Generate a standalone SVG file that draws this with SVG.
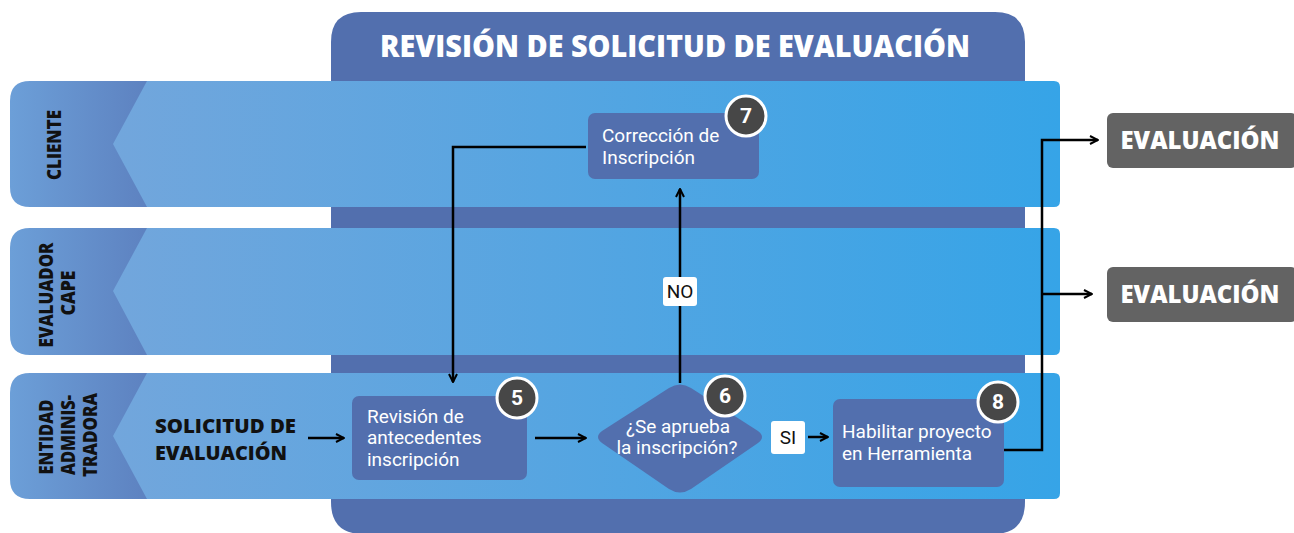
<svg xmlns="http://www.w3.org/2000/svg" width="1294" height="533" viewBox="0 0 1294 533">
<defs>
<linearGradient id="laneG" x1="0" y1="0" x2="1" y2="0">
<stop offset="0" stop-color="#72a6dc"/>
<stop offset="1" stop-color="#36a4e7"/>
</linearGradient>
<linearGradient id="headG" x1="0" y1="0" x2="1" y2="0">
<stop offset="0" stop-color="#6c9fd8"/>
<stop offset="1" stop-color="#5c7fbe"/>
</linearGradient>
<marker id="ah" viewBox="0 0 10 10" refX="9" refY="5" markerWidth="10" markerHeight="10" markerUnits="userSpaceOnUse" orient="auto">
<path d="M1,1 L9,5 L1,9" fill="none" stroke="#000" stroke-width="2"/>
</marker>
<style>
.lab{font-family:"Open Sans","DejaVu Sans",sans-serif;font-weight:800;font-size:19px;fill:#111}
.box{fill:#526fae}
.bt{font-family:"Roboto","Liberation Sans",sans-serif;font-size:19px;fill:#fff}
.badge{fill:#474747;stroke:#fff;stroke-width:3}
.bn{font-family:"Roboto","Liberation Sans",sans-serif;font-weight:bold;font-size:21px;fill:#fff;text-anchor:middle}
.cn{fill:none;stroke:#000;stroke-width:2.5}
.tag{fill:#fff}
.tt{font-family:"Roboto","Liberation Sans",sans-serif;font-size:19px;fill:#111;text-anchor:middle}
.ev{fill:#636363}
.evt{font-family:"Open Sans","DejaVu Sans",sans-serif;font-weight:800;font-size:25px;fill:#fff;text-anchor:middle}
</style>
</defs>
<rect width="1294" height="533" fill="#fff"/>
<!-- background panel -->
<g id="panel">
<path d="M331,502 L331,42 Q331,12 361,12 L995,12 Q1025,12 1025,42 L1025,502 Q1025,534 993,534 L363,534 Q331,534 331,502 Z" fill="#526fae"/>
<text x="675" y="57" text-anchor="middle" font-family="'Open Sans','DejaVu Sans',sans-serif" font-weight="800" font-size="30" fill="#fff" textLength="590" lengthAdjust="spacingAndGlyphs">REVISIÓN DE SOLICITUD DE EVALUACIÓN</text>
</g>
<!-- lanes -->
<g id="lane-cliente">
<path d="M30,81 L160,81 L160,207 L30,207 Q10,207 10,187 L10,101 Q10,81 30,81 Z" fill="url(#headG)"/>
<path d="M147,81 L1054,81 Q1060,81 1060,87 L1060,201 Q1060,207 1054,207 L147,207 L113,144 Z" fill="url(#laneG)"/>
<text class="lab" transform="translate(61,145) rotate(-90)" text-anchor="middle" textLength="70" lengthAdjust="spacingAndGlyphs">CLIENTE</text>
</g>
<g id="lane-evaluador">
<path d="M30,228 L160,228 L160,355 L30,355 Q10,355 10,335 L10,248 Q10,228 30,228 Z" fill="url(#headG)"/>
<path d="M147,228 L1054,228 Q1060,228 1060,234 L1060,349 Q1060,355 1054,355 L147,355 L113,291 Z" fill="url(#laneG)"/>
<text class="lab" transform="translate(53,295) rotate(-90)" text-anchor="middle" textLength="105" lengthAdjust="spacingAndGlyphs">EVALUADOR</text>
<text class="lab" transform="translate(75,293) rotate(-90)" text-anchor="middle" textLength="45" lengthAdjust="spacingAndGlyphs">CAPE</text>
</g>
<g id="lane-entidad">
<path d="M30,373 L160,373 L160,499 L30,499 Q10,499 10,479 L10,393 Q10,373 30,373 Z" fill="url(#headG)"/>
<path d="M147,373 L1054,373 Q1060,373 1060,379 L1060,493 Q1060,499 1054,499 L147,499 L113,436 Z" fill="url(#laneG)"/>
<text class="lab" transform="translate(53,437) rotate(-90)" text-anchor="middle" textLength="75" lengthAdjust="spacingAndGlyphs">ENTIDAD</text>
<text class="lab" transform="translate(75,435) rotate(-90)" text-anchor="middle" textLength="80" lengthAdjust="spacingAndGlyphs">ADMINIS-</text>
<text class="lab" transform="translate(97,435) rotate(-90)" text-anchor="middle" textLength="84" lengthAdjust="spacingAndGlyphs">TRADORA</text>
</g>
<!-- connectors -->
<g id="connectors">
<path class="cn" d="M308,438 L344,438" marker-end="url(#ah)"/>
<path class="cn" d="M535,438 L586,438" marker-end="url(#ah)"/>
<path class="cn" d="M680,383 L680,189" marker-end="url(#ah)"/>
<path class="cn" d="M586,147 L453,147 L453,382" marker-end="url(#ah)"/>
<path class="cn" d="M808,437 L828,437" marker-end="url(#ah)"/>
<path class="cn" d="M1004,450 L1042,450 L1042,140 L1098,140" marker-end="url(#ah)"/>
<path class="cn" d="M1042,294 L1092,294" marker-end="url(#ah)"/>
</g>
<g id="start">
<text font-family="'Open Sans','DejaVu Sans',sans-serif" font-weight="800" font-size="20" fill="#111"><tspan x="155" y="433" textLength="141" lengthAdjust="spacingAndGlyphs">SOLICITUD DE</tspan><tspan x="155" y="460" textLength="132" lengthAdjust="spacingAndGlyphs">EVALUACIÓN</tspan></text>
</g>
<g id="node7">
<rect class="box" x="588" y="113" width="171" height="66" rx="7"/>
<text class="bt"><tspan x="602" y="142">Corrección de</tspan><tspan x="602" y="164">Inscripción</tspan></text>
<circle class="badge" cx="746" cy="116" r="20"/>
<text class="bn" x="746" y="123">7</text>
</g>
<g id="node5">
<rect class="box" x="352" y="396" width="175" height="84" rx="7"/>
<text class="bt"><tspan x="367" y="423">Revisión de</tspan><tspan x="367" y="444">antecedentes</tspan><tspan x="367" y="466">inscripción</tspan></text>
<circle class="badge" cx="517" cy="398" r="20"/>
<text class="bn" x="517" y="405">5</text>
</g>
<g id="node6">
<path class="box" d="M669,388 Q680,381 691,388 L758,431 Q766,437 758,443 L691,489 Q680,496 669,489 L602,443 Q594,437 602,431 Z"/>
<text class="bt" text-anchor="middle"><tspan x="678" y="433">¿Se aprueba</tspan><tspan x="677" y="454">la inscripción?</tspan></text>
<circle class="badge" cx="725" cy="396" r="20"/>
<text class="bn" x="725" y="403">6</text>
</g>
<g id="node8">
<rect class="box" x="833" y="399" width="171" height="88" rx="7"/>
<text class="bt"><tspan x="842" y="438">Habilitar proyecto</tspan><tspan x="842" y="460">en Herramienta</tspan></text>
<circle class="badge" cx="998" cy="402" r="20"/>
<text class="bn" x="998" y="409">8</text>
</g>
<g id="label-si">
<rect class="tag" x="771" y="421" width="34" height="33" rx="3"/>
<text class="tt" x="788" y="444">SI</text>
</g>
<g id="label-no">
<rect class="tag" x="663" y="277" width="34" height="29" rx="3"/>
<text class="tt" x="680" y="298">NO</text>
</g>
<g id="eval1">
<rect class="ev" x="1107" y="113" width="190" height="55" rx="6"/>
<text class="evt" x="1200" y="149" textLength="159" lengthAdjust="spacingAndGlyphs">EVALUACIÓN</text>
</g>
<g id="eval2">
<rect class="ev" x="1107" y="267" width="190" height="55" rx="6"/>
<text class="evt" x="1200" y="303" textLength="159" lengthAdjust="spacingAndGlyphs">EVALUACIÓN</text>
</g>
</svg>
